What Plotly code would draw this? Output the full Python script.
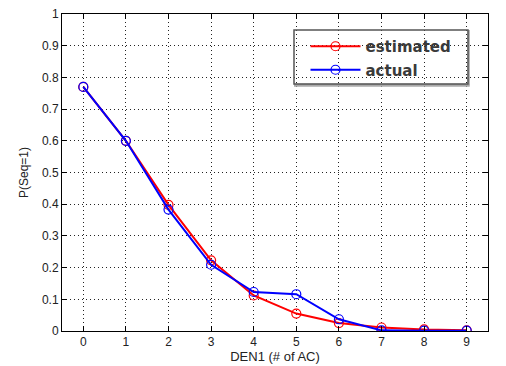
import plotly.graph_objects as go

x_vals = [0, 1, 2, 3, 4, 5, 6, 7, 8, 9]
estimated = [0.77, 0.60, 0.398, 0.223, 0.112, 0.055, 0.025, 0.011, 0.005, 0.002]
actual = [0.77, 0.60, 0.383, 0.209, 0.123, 0.116, 0.037, 0.002, 0.001, 0.001]
x_ticks = list(range(10))
y_ticks = [0, 0.1, 0.2, 0.3, 0.4, 0.5, 0.6, 0.7, 0.8, 0.9, 1]
y_ticktext = ["0", "0.1", "0.2", "0.3", "0.4", "0.5", "0.6", "0.7", "0.8", "0.9", "1"]

fig = go.Figure()
fig.add_trace(go.Scatter(
    x=x_vals, y=estimated, name="estimated", mode="lines+markers", legendgroup="a",
    line=dict(color="#ff0000", width=2),
    marker=dict(symbol="circle-open", size=9, color="#ff0000", line=dict(width=1.2)),
))
fig.add_trace(go.Scatter(
    x=x_vals, y=actual, name="actual", mode="lines+markers", legendgroup="b",
    line=dict(color="#0000ff", width=2),
    marker=dict(symbol="circle-open", size=9, color="#0000ff", line=dict(width=1.2)),
))

axis_common = dict(
    showline=True, linecolor="black", linewidth=1, mirror="ticks",
    ticks="inside", ticklen=5, tickcolor="black",
    showgrid=True, gridcolor="#222222", griddash="1px,3px", gridwidth=1,
    zeroline=False, automargin=False, ticklabeloverflow="allow",
    tickfont=dict(family="Liberation Sans, Arial", size=12, color="#222222"),
)

# legend box (paper coords)
bx0, bx1, by0, by1 = 0.5446, 0.953, 0.779, 0.9495

fig.update_layout(
    width=498, height=358,
    margin=dict(l=54, r=18, t=6, b=35),
    paper_bgcolor="white", plot_bgcolor="white",
    xaxis=dict(range=[-0.5, 9.5], tickvals=x_ticks,
               title=dict(text="DEN1 (# of AC)", standoff=3,
                          font=dict(family="Liberation Sans, Arial", size=13, color="#222222")),
               **axis_common),
    yaxis=dict(range=[0, 1], tickvals=y_ticks, ticktext=y_ticktext,
               title=dict(text="P(Seq=1)", standoff=10,
                          font=dict(family="Liberation Sans, Arial", size=12, color="#222222")),
               **axis_common),
    legend=dict(
        x=bx0 + 0.027, y=by1 - 0.0, xanchor="left", yanchor="top",
        bgcolor="rgba(0,0,0,0)", borderwidth=0,
        font=dict(family="DejaVu Sans", size=15, color="#3a3a3a", weight="bold"),
        tracegroupgap=1, itemwidth=50,
    ),
    shapes=[
        dict(type="line", xref="paper", yref="paper", x0=bx0, x1=bx1 + 0.004, y0=by0 - 0.004, y1=by0 - 0.004,
             line=dict(color="#aaaaaa", width=3)),
        dict(type="line", xref="paper", yref="paper", x0=bx1 + 0.002, x1=bx1 + 0.002, y0=by0 - 0.004, y1=by1,
             line=dict(color="#aaaaaa", width=2)),
        dict(type="rect", xref="paper", yref="paper", x0=bx0, x1=bx1, y0=by0, y1=by1,
             line=dict(color="#555555", width=1.5)),
    ],
    showlegend=True,
)

fig.write_html("out.html")
